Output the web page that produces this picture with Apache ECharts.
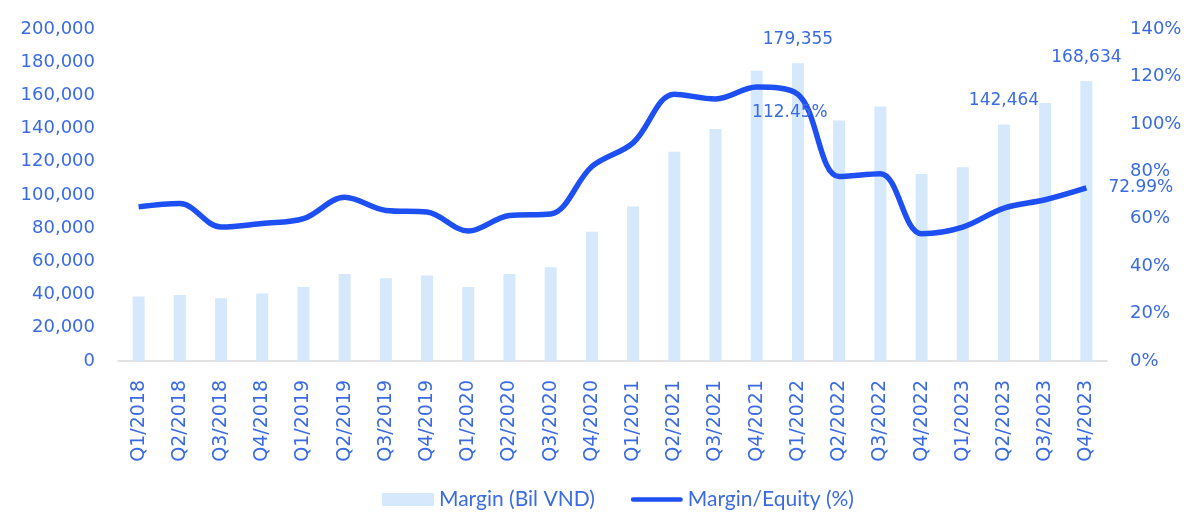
<!DOCTYPE html>
<html>
<head>
<meta charset="utf-8">
<script src="https://cdn.jsdelivr.net/npm/echarts@6/dist/echarts.min.js"></script>
<style>
html,body{margin:0;padding:0;background:#fff;}
#main{width:1200px;height:527px;}
</style>
</head>
<body>
<div id="main"></div>
<script>
var categories = ["Q1/2018","Q2/2018","Q3/2018","Q4/2018","Q1/2019","Q2/2019","Q3/2019","Q4/2019",
  "Q1/2020","Q2/2020","Q3/2020","Q4/2020","Q1/2021","Q2/2021","Q3/2021","Q4/2021",
  "Q1/2022","Q2/2022","Q3/2022","Q4/2022","Q1/2023","Q2/2023","Q3/2023","Q4/2023"];
var marginValues = [38900,39800,37800,40600,44600,52400,49800,51500,
  44600,52400,56500,77900,93100,126100,139700,174800,
  179355,144900,153300,112700,116700,142464,155400,168634];
var ratioValues = [65.0,66.4,56.5,58.0,60.0,69.0,63.5,62.8,
  54.8,61.4,62.0,82.0,92.0,112.5,110.5,115.5,
  112.45,77.8,79.0,53.7,56.5,64.5,68.0,72.99];
var leftTicks = {min:0, max:200000, interval:20000};
var rightTicks = {min:0, max:140, interval:20};
var labeledBars = [16,21,23];
var labeledPoints = {16:'bottom', 23:'right'};

var textColor = '#3a6be2';
var barData = marginValues.map(function(v,i){
  return labeledBars.indexOf(i) >= 0 ? {value:v, label:{show:true}} : v;
});
var lineData = ratioValues.map(function(v,i){
  if (labeledPoints[i]) {
    var isRight = labeledPoints[i]==='right';
    return {value:v, label:{show:true, position:labeledPoints[i], distance: isRight?22:10, offset: isRight?[0,0]:[-8,0]}};
  }
  return v;
});

var chart = echarts.init(document.getElementById('main'), null, {renderer:'canvas'});
chart.setOption({
  animation:false,
  backgroundColor:'#fff',
  grid:{left:118, right:93, top:29, bottom:166},
  legend:{
    left:377, top:484,
    itemWidth:52, itemHeight:13, itemGap:36,
    textStyle:{color:textColor, fontFamily:'Lato', fontSize:21},
    data:[{name:'Margin (Bil VND)', icon:'rect'},
          {name:'Margin/Equity (%)', icon:'path://M2,0 L55,0 A2.5,2.5 0 0 1 55,5 L2,5 A2.5,2.5 0 0 1 2,0 Z'}]
  },
  xAxis:{
    type:'category', data:categories,
    axisLine:{lineStyle:{color:'#d9d9d9', width:1.5}},
    axisTick:{show:false},
    axisLabel:{rotate:90, margin:19, color:textColor, fontFamily:'DejaVu Sans', fontSize:19, interval:0}
  },
  yAxis:[{
    type:'value', min:leftTicks.min, max:leftTicks.max, interval:leftTicks.interval,
    splitLine:{show:false}, axisLine:{show:false}, axisTick:{show:false},
    axisLabel:{margin:23, color:textColor, fontFamily:'DejaVu Sans', fontSize:18,
      formatter:function(v){return v.toLocaleString('en-US');}}
  },{
    type:'value', min:rightTicks.min, max:rightTicks.max, interval:rightTicks.interval,
    splitLine:{show:false}, axisLine:{show:false}, axisTick:{show:false},
    axisLabel:{margin:23, color:textColor, fontFamily:'DejaVu Sans', fontSize:18, formatter:'{value}%'}
  }],
  series:[{
    name:'Margin (Bil VND)', type:'bar', data:barData, barWidth:12,
    itemStyle:{color:'#d5e8fc'},
    label:{show:false, position:'top', distance:15, color:textColor, fontFamily:'DejaVu Sans', fontSize:17,
      formatter:function(p){return p.value.toLocaleString('en-US');}}
  },{
    name:'Margin/Equity (%)', type:'line', yAxisIndex:1, data:lineData, smooth:0.35,
    symbol:'circle', symbolSize:0.1, showSymbol:true,
    lineStyle:{color:'#1e4ff2', width:5.5}, itemStyle:{color:'#1e4ff2'},
    label:{show:false, color:textColor, fontFamily:'DejaVu Sans', fontSize:17,
      formatter:function(p){return p.value.toFixed(2)+'%';}}
  }]
});
</script>
</body>
</html>
